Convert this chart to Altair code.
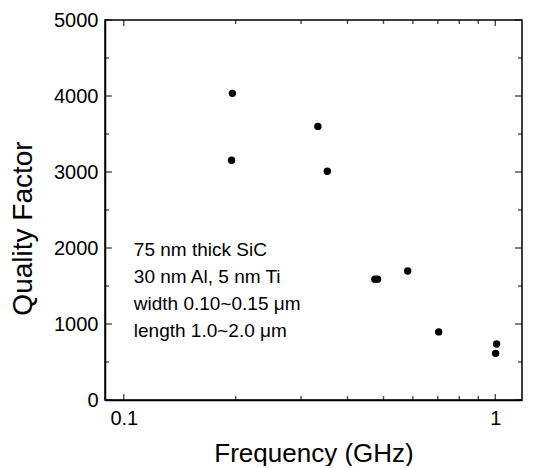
import altair as alt
import pandas as pd

# ---- data ----
freq_ghz = [0.196, 0.195, 0.333, 0.353, 0.474, 0.482, 0.581, 0.704, 1.008, 1.002]
quality = [4035, 3155, 3600, 3010, 1590, 1590, 1697, 896, 736, 614]

y_major = [0, 1000, 2000, 3000, 4000, 5000]
y_minor = [500, 1500, 2500, 3500, 4500]
x_major = [0.1, 1.0]
x_minor = [0.2, 0.3, 0.4, 0.5, 0.6, 0.7, 0.8, 0.9]

annotation_lines = [
    "75 nm thick SiC",
    "30 nm Al, 5 nm Ti",
    "width 0.10~0.15 μm",
    "length 1.0~2.0 μm",
]
annotation_pos = (0.1064, 2090)

W, H = 417, 380
FONT = "Liberation Sans"

xscale = alt.Scale(type="log", domain=[0.089, 1.18], nice=False)
yscale = alt.Scale(domain=[0, 5000], nice=False, zero=False)

x_axis = alt.Axis(values=x_major, format="~g", title="Frequency (GHz)",
                  labelPadding=8, titleFontSize=26, titleY=61,
                  titleBaseline="alphabetic")
y_axis = alt.Axis(values=y_major, format="d", title="Quality Factor",
                  labelPadding=7, titleFontSize=28, titleAngle=-90,
                  titleX=-68, titleY=208, titleBaseline="bottom",
                  titleAlign="center")

df = pd.DataFrame({"freq": freq_ghz, "q": quality})

points = alt.Chart(df).mark_circle(size=55, color="black", opacity=1).encode(
    x=alt.X("freq:Q", scale=xscale, axis=x_axis),
    y=alt.Y("q:Q", scale=yscale, axis=y_axis),
)

TICK_COLOR = "black"


def yticks(vals, length):
    d = pd.DataFrame({"q": vals})
    left = alt.Chart(d).mark_tick(color=TICK_COLOR, thickness=1.4,
                                  orient="horizontal", size=length).encode(
        y=alt.Y("q:Q", scale=yscale, axis=y_axis),
        x=alt.value(length / 2))
    right = alt.Chart(d).mark_tick(color=TICK_COLOR, thickness=1.4,
                                   orient="horizontal", size=length).encode(
        y=alt.Y("q:Q", scale=yscale, axis=y_axis),
        x=alt.value(W - length / 2))
    return [left, right]


def xticks(vals, length):
    d = pd.DataFrame({"freq": vals})
    bottom = alt.Chart(d).mark_tick(color=TICK_COLOR, thickness=1.4,
                                    orient="vertical", size=length).encode(
        x=alt.X("freq:Q", scale=xscale, axis=x_axis),
        y=alt.value(H - length / 2))
    top = alt.Chart(d).mark_tick(color=TICK_COLOR, thickness=1.4,
                                 orient="vertical", size=length).encode(
        x=alt.X("freq:Q", scale=xscale, axis=x_axis),
        y=alt.value(length / 2))
    return [bottom, top]


tick_layers = (yticks(y_major, 7) + yticks(y_minor, 4)
               + xticks(x_major, 6) + xticks(x_minor, 4))

ann_df = pd.DataFrame({"freq": [annotation_pos[0]], "q": [annotation_pos[1]],
                       "t": ["\n".join(annotation_lines)]})
annotation = alt.Chart(ann_df).mark_text(
    align="left", baseline="top", lineBreak="\n", lineHeight=27,
    fontSize=19, font=FONT, color="black").encode(
    x=alt.X("freq:Q", scale=xscale, axis=x_axis),
    y=alt.Y("q:Q", scale=yscale, axis=y_axis),
    text="t:N")

chart = alt.layer(*tick_layers, points, annotation).properties(
    width=W, height=H,
    autosize=alt.AutoSizeParams(type="none"),
    padding={"left": 97, "top": 12, "right": 4, "bottom": 66},
).configure_view(
    stroke="black", strokeWidth=1.5
).configure_axis(
    grid=False, domainColor="black", domainWidth=1.5,
    ticks=False, tickSize=0,
    labelFont=FONT, labelFontSize=20, labelColor="black",
    titleFont=FONT, titleColor="black", titleFontWeight="normal",
)

chart.save("out.html", embed_options={"renderer": "svg", "actions": False})
